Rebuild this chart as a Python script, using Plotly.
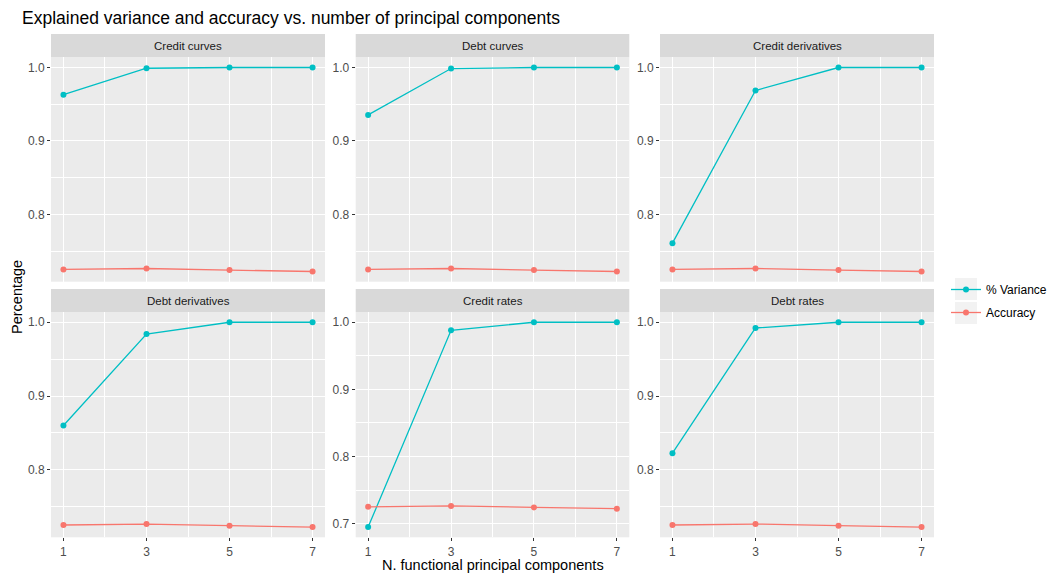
import plotly.graph_objects as go

# ---------------- data ----------------
n_components = [1, 3, 5, 7]
panels = ["Credit curves", "Debt curves", "Credit derivatives",
          "Debt derivatives", "Credit rates", "Debt rates"]
variance = {
    "Credit curves":      [0.963, 0.999, 1.000, 1.000],
    "Debt curves":        [0.9355, 0.9986, 1.000, 1.000],
    "Credit derivatives": [0.761, 0.9687, 1.000, 1.000],
    "Debt derivatives":   [0.860, 0.984, 1.000, 1.000],
    "Credit rates":       [0.695, 0.988, 1.000, 1.000],
    "Debt rates":         [0.8226, 0.9922, 1.000, 1.000],
}
accuracy = [0.7252, 0.7265, 0.7243, 0.7224]

VAR_COL = "#00BFC4"
ACC_COL = "#F8766D"
FONT = "Liberation Sans, Arial, sans-serif"

W, H = 1050, 577
col_px = [(51, 325), (355.7, 629.3), (660, 934)]
row_px = [(57.3, 281.7), (312, 537.3)]
strip_px = [(34, 57.3), (289, 312)]

def px_x(v):
    return v / W

def px_y(v):
    return 1 - v / H

fig = go.Figure()
shapes = []
annotations = []
layout = {}

for i, name in enumerate(panels):
    r, c = divmod(i, 3)
    k = i + 1
    xa = "x" if k == 1 else f"x{k}"
    ya = "y" if k == 1 else f"y{k}"
    xkey = "xaxis" if k == 1 else f"xaxis{k}"
    ykey = "yaxis" if k == 1 else f"yaxis{k}"

    fig.add_trace(go.Scatter(
        x=n_components, y=variance[name], mode="lines+markers",
        name="% Variance", legendgroup="var", showlegend=(i == 0),
        line=dict(color=VAR_COL, width=1.3), marker=dict(color=VAR_COL, size=6),
        xaxis=xa, yaxis=ya))
    fig.add_trace(go.Scatter(
        x=n_components, y=accuracy, mode="lines+markers",
        name="Accuracy", legendgroup="acc", showlegend=(i == 0),
        line=dict(color=ACC_COL, width=1.3), marker=dict(color=ACC_COL, size=6),
        xaxis=xa, yaxis=ya))

    vals = variance[name] + accuracy
    lo, hi = min(vals), max(vals)
    pad = 0.05 * (hi - lo)

    x0, x1 = col_px[c]
    y0, y1 = row_px[r]
    layout[xkey] = dict(
        domain=[px_x(x0), px_x(x1)], anchor=ya, range=[0.7, 7.3],
        tickvals=n_components, showgrid=True, gridcolor="white", gridwidth=1.3,
        minor=dict(tickvals=[2, 4, 6], showgrid=True, gridcolor="white", gridwidth=0.6),
        zeroline=False, showline=False,
        ticks="outside" if r == 1 else "", ticklen=3, tickcolor="#333333",
        showticklabels=(r == 1),
        tickfont=dict(size=12, color="#4D4D4D", family=FONT))
    layout[ykey] = dict(
        domain=[px_y(y1), px_y(y0)], anchor=xa, range=[lo - pad, hi + pad],
        tick0=0, dtick=0.1, tickformat=".1f",
        showgrid=True, gridcolor="white", gridwidth=1.3,
        minor=dict(tick0=0, dtick=0.05, showgrid=True, gridcolor="white", gridwidth=0.6),
        zeroline=False, showline=False,
        ticks="outside", ticklen=3, tickcolor="#333333",
        tickfont=dict(size=12, color="#4D4D4D", family=FONT))

    sy0, sy1 = strip_px[r]
    shapes.append(dict(type="rect", xref="paper", yref="paper",
                       x0=px_x(x0), x1=px_x(x1), y0=px_y(sy1), y1=px_y(sy0),
                       fillcolor="#D9D9D9", line=dict(width=0), layer="below"))
    annotations.append(dict(text=name, xref="paper", yref="paper",
                            x=px_x((x0 + x1) / 2), y=px_y((sy0 + sy1) / 2),
                            showarrow=False, xanchor="center", yanchor="middle",
                            font=dict(size=11.5, color="#1A1A1A", family=FONT)))

# legend key backgrounds (ggplot style)
for ky in (289, 313):
    shapes.append(dict(type="rect", xref="paper", yref="paper",
                       x0=px_x(955), x1=px_x(977), y0=px_y(ky + 11), y1=px_y(ky - 11),
                       fillcolor="#F2F2F2", line=dict(width=0), layer="below"))

annotations.append(dict(text="Percentage", xref="paper", yref="paper",
                        x=px_x(17), y=px_y(297), textangle=-90, showarrow=False,
                        xanchor="center", yanchor="middle",
                        font=dict(size=14.5, color="black", family=FONT)))
annotations.append(dict(text="N. functional principal components", xref="paper", yref="paper",
                        x=px_x(492.5), y=px_y(565), showarrow=False,
                        xanchor="center", yanchor="middle",
                        font=dict(size=14.5, color="black", family=FONT)))

fig.update_layout(
    width=W, height=H,
    margin=dict(l=0, r=0, t=0, b=0, autoexpand=False),
    paper_bgcolor="white", plot_bgcolor="#EBEBEB",
    title=dict(text="Explained variance and accuracy vs. number of principal components",
               x=px_x(22), xanchor="left", xref="paper",
               y=px_y(18), yanchor="middle", yref="paper",
               font=dict(size=17.5, color="black", family=FONT)),
    showlegend=True,
    legend=dict(xref="container", yref="container",
                x=px_x(946), y=px_y(301), xanchor="left", yanchor="middle",
                font=dict(size=12, color="black", family=FONT),
                itemwidth=30, tracegroupgap=4, bgcolor="rgba(0,0,0,0)"),
    shapes=shapes, annotations=annotations,
    **layout)

fig.write_html("out.html")
